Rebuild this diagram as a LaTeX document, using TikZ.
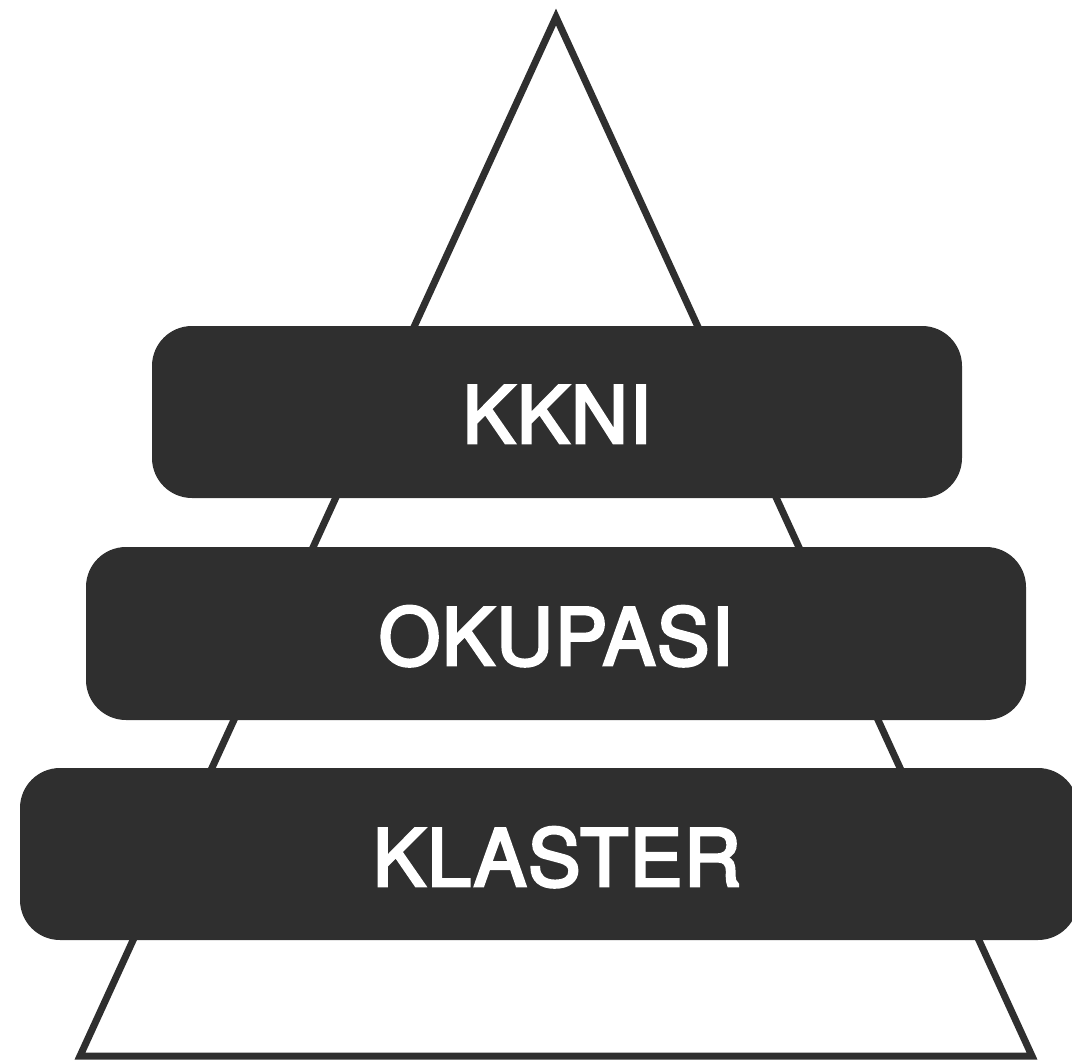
\documentclass[tikz,border=0pt]{standalone}
\usepackage{fontspec}
\setmainfont{TeX Gyre Heros}
\newfontfamily\medfont[FakeBold=3.5,LetterSpace=2]{TeX Gyre Heros}
\definecolor{ink}{HTML}{2F2F2F}
\begin{document}
\begin{tikzpicture}[x=1pt,y=-1pt,
  layer/.style={fill=ink,draw=none,rounded corners=40pt,inner sep=0pt,rectangle},
  lbl/.style={text=white,inner sep=0pt,font=\medfont\fontsize{79}{79}\selectfont,anchor=base}]
\useasboundingbox (0,0) rectangle (1072,1060);
\clip (0,0) rectangle (1072,1060);
\coordinate (apex) at (556,17);
\coordinate (bl) at (80,1056);
\coordinate (br) at (1032,1056);
\draw[ink,line width=7pt,line join=miter] (apex) -- (br) -- (bl) -- cycle;
\node[layer,minimum width=810pt,minimum height=172pt] (b1) at (557,412) {};
\node[layer,minimum width=940pt,minimum height=173pt] (b2) at (556,633.5) {};
\node[layer,minimum width=1058pt,minimum height=172pt] (b3) at (549,854) {};
\node[lbl] (t1) at (557,443) {KKNI};
\node[lbl] (t2) at (556,665) {OKUPASI};
\node[lbl] (t3) at (557,886) {KLASTER};
\end{tikzpicture}
\end{document}
